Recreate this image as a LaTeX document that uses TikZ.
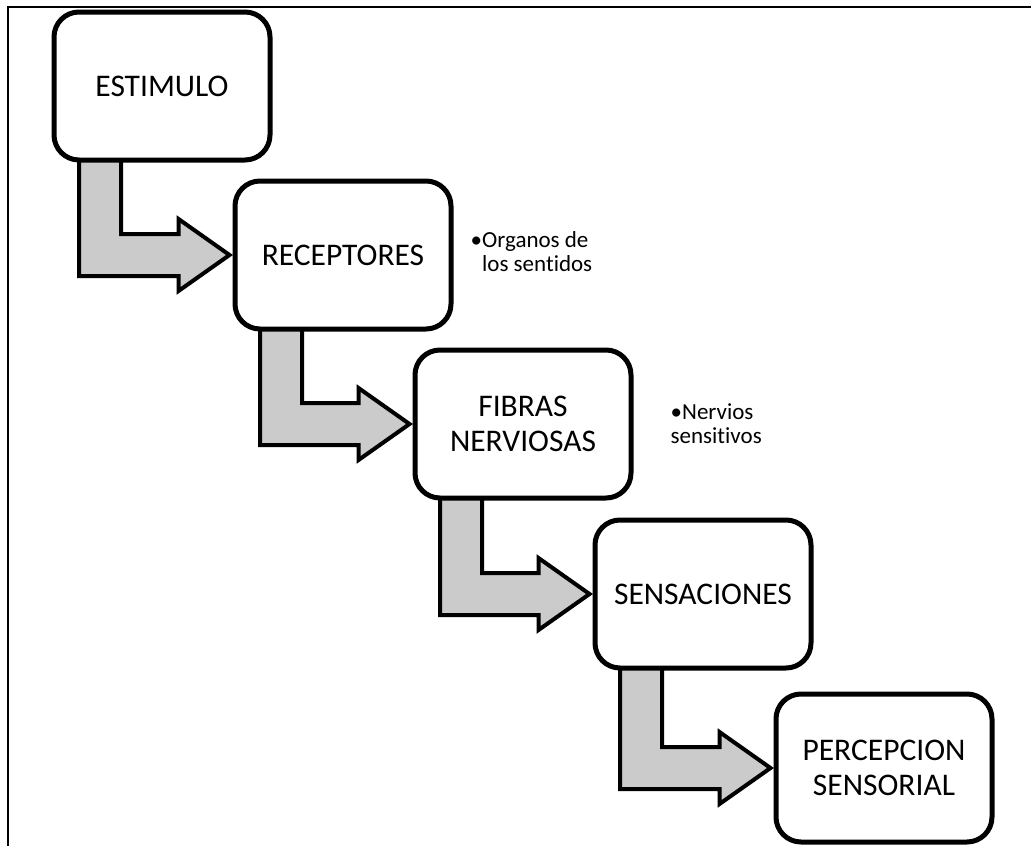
\documentclass[tikz,border=0pt]{standalone}
\usepackage{fontspec}
\setmainfont{Carlito}[RawFeature=-liga]
\usetikzlibrary{positioning,backgrounds}
\definecolor{arrowgray}{HTML}{CBCBCB}
\tikzset{
  stage/.style={draw,line width=5pt,rounded corners=25pt,fill=white,minimum width=216pt,minimum height=148pt,align=center,font=\fontsize{31.5}{35}\selectfont},
  note/.style={inner sep=0pt,align=left,font=\fontsize{23}{24}\selectfont},
  bentarrow/.style={draw,line width=4pt,fill=arrowgray,line join=miter}
}

\begin{document}
\begin{tikzpicture}[x=1pt,y=-1pt]
\useasboundingbox (0,0) rectangle (1031,846);
\draw[line width=2.5pt] (8,846) -- (8,7) -- (1031,7);
\node[stage] (est) at (162,86) {ESTIMULO};
\node[stage] (rec) at (343,255) {RECEPTORES};
\node[stage] (fib) at (523,424) {FIBRAS\\NERVIOSAS};
\node[stage] (sen) at (703,594) {SENSACIONES};
\node[stage] (per) at (884,768) {PERCEPCION\\SENSORIAL};
\node[note,right=17pt of rec] (org) {\begin{tabular}{@{}l@{}l@{}}•&Organos de\\&los sentidos\end{tabular}};
\node[note,right=37pt of fib] (ner) {•Nervios\\sensitivos};
% bent arrows behind the boxes
\begin{scope}[on background layer]
\foreach \a/\b in {est/rec,rec/fib,fib/sen,sen/per}{
\draw[bentarrow] ([xshift=-83pt,yshift=3pt]\a.south) -- ([xshift=-41pt,yshift=3pt]\a.south)
  |- ([xshift=-54pt,yshift=21pt]\b.west) -- ([xshift=-54pt,yshift=36pt]\b.west)
  -- ([xshift=-3pt]\b.west) -- ([xshift=-54pt,yshift=-36pt]\b.west)
  -- ([xshift=-54pt,yshift=-21pt]\b.west) -| ([xshift=-83pt,yshift=3pt]\a.south) -- cycle;}
\end{scope}
\end{tikzpicture}
\end{document}
